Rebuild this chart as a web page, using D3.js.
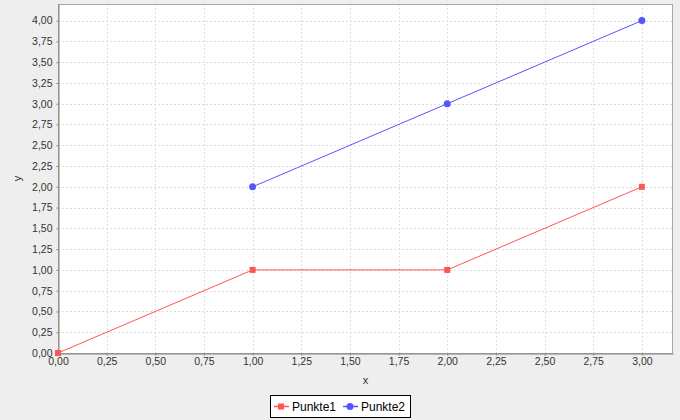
<!DOCTYPE html>
<html><head><meta charset="utf-8">
<script src="https://cdn.jsdelivr.net/npm/d3@7"></script>
<style>body{margin:0;background:#EEEEEE;}svg{display:block;font-family:"Liberation Sans",Arial,sans-serif;}</style>
</head><body>
<svg id="c" width="680" height="420"></svg>
<script>
const seriesNames = ["Punkte1", "Punkte2"];
const punkte1X = [0, 1, 2, 3];
const punkte1Y = [0, 1, 1, 2];
const punkte2X = [1, 2, 3];
const punkte2Y = [2, 3, 4];
const xTicks = [0,0.25,0.5,0.75,1,1.25,1.5,1.75,2,2.25,2.5,2.75,3];
const yTicks = [0,0.25,0.5,0.75,1,1.25,1.5,1.75,2,2.25,2.5,2.75,3,3.25,3.5,3.75,4];
const colors = ["#FF5555", "#5555FF"];

const svg = d3.select("#c");
const L = 58, T = 4, R = 673, B = 353;
const x = d3.scaleLinear().domain([0, 3.16]).range([L, R]);
const y = d3.scaleLinear().domain([0, 4.2]).range([B, T]);
const fmt = v => d3.format(".2f")(v).replace(".", ",");

svg.append("rect").attr("width",680).attr("height",420).attr("fill","#EEEEEE");
svg.append("rect").attr("x",L).attr("y",T).attr("width",R-L).attr("height",B-T).attr("fill","#fff");

const g = svg.append("g");
g.selectAll(".vg").data(xTicks).join("line")
  .attr("x1",d=>Math.round(x(d))+0.5).attr("x2",d=>Math.round(x(d))+0.5)
  .attr("y1",T).attr("y2",B).attr("stroke","#DDDDDD").attr("stroke-dasharray","2,2");
g.selectAll(".hg").data(yTicks).join("line")
  .attr("y1",d=>Math.round(y(d))+0.5).attr("y2",d=>Math.round(y(d))+0.5)
  .attr("x1",L).attr("x2",R).attr("stroke","#DDDDDD").attr("stroke-dasharray","2,2");

// outline
svg.append("rect").attr("x",L+0.5).attr("y",T+0.5).attr("width",R-L-1).attr("height",B-T).attr("fill","none").attr("stroke","#A8A8A8");

// axes
const xa = svg.append("g").attr("transform",`translate(0,${B+0.5})`)
  .call(d3.axisBottom(x).tickValues(xTicks).tickFormat(fmt).tickSizeInner(2).tickSizeOuter(0).tickPadding(2));
const ya = svg.append("g").attr("transform",`translate(${L+0.5},0)`)
  .call(d3.axisLeft(y).tickValues(yTicks).tickFormat(fmt).tickSizeInner(2).tickSizeOuter(0).tickPadding(4));
[xa,ya].forEach(a=>{
  a.selectAll("path").attr("stroke","#808080");
  a.selectAll("line").attr("stroke","#808080");
  a.selectAll("text").attr("fill","#333").style("font-size","10.5px").style("font-family","'Liberation Sans',Arial,sans-serif");
});

svg.append("text").attr("x",(L+R)/2).attr("y",384).attr("text-anchor","middle")
  .style("font-size","11px").attr("fill","#333").text("x");
svg.append("text").attr("transform",`translate(21,${(T+B)/2}) rotate(-90)`).attr("text-anchor","middle")
  .style("font-size","11px").attr("fill","#333").text("y");

const data = [
  punkte1X.map((v,i)=>[v,punkte1Y[i]]),
  punkte2X.map((v,i)=>[v,punkte2Y[i]])
];
const line = d3.line().x(d=>x(d[0])).y(d=>y(d[1]));
data.forEach((s,i)=>{
  svg.append("path").datum(s).attr("d",line).attr("fill","none").attr("stroke",colors[i]).attr("stroke-width",1);
});
// markers
svg.selectAll(".sq").data(data[0]).join("rect")
  .attr("x",d=>x(d[0])-3).attr("y",d=>y(d[1])-3).attr("width",6).attr("height",6).attr("fill",colors[0]);
svg.selectAll(".ci").data(data[1]).join("circle")
  .attr("cx",d=>x(d[0])).attr("cy",d=>y(d[1])).attr("r",3.5).attr("fill",colors[1]);

// legend
const lg = svg.append("g");
lg.append("rect").attr("x",270.5).attr("y",395.5).attr("width",140).attr("height",22).attr("fill","#fff").attr("stroke","#000");
const items = [{x:274},{x:343}];
seriesNames.forEach((n,i)=>{
  const ix = items[i].x;
  lg.append("line").attr("x1",ix).attr("x2",ix+15).attr("y1",406.5).attr("y2",406.5).attr("stroke",colors[i]).attr("stroke-width",1.5);
  if(i===0) lg.append("rect").attr("x",ix+4).attr("y",403.5).attr("width",6).attr("height",6).attr("fill",colors[i]);
  else lg.append("circle").attr("cx",ix+7).attr("cy",406.5).attr("r",3.5).attr("fill",colors[i]);
  lg.append("text").attr("x",ix+18).attr("y",411).style("font-size","12px").attr("fill","#000").text(n);
});
</script>
</body></html>
